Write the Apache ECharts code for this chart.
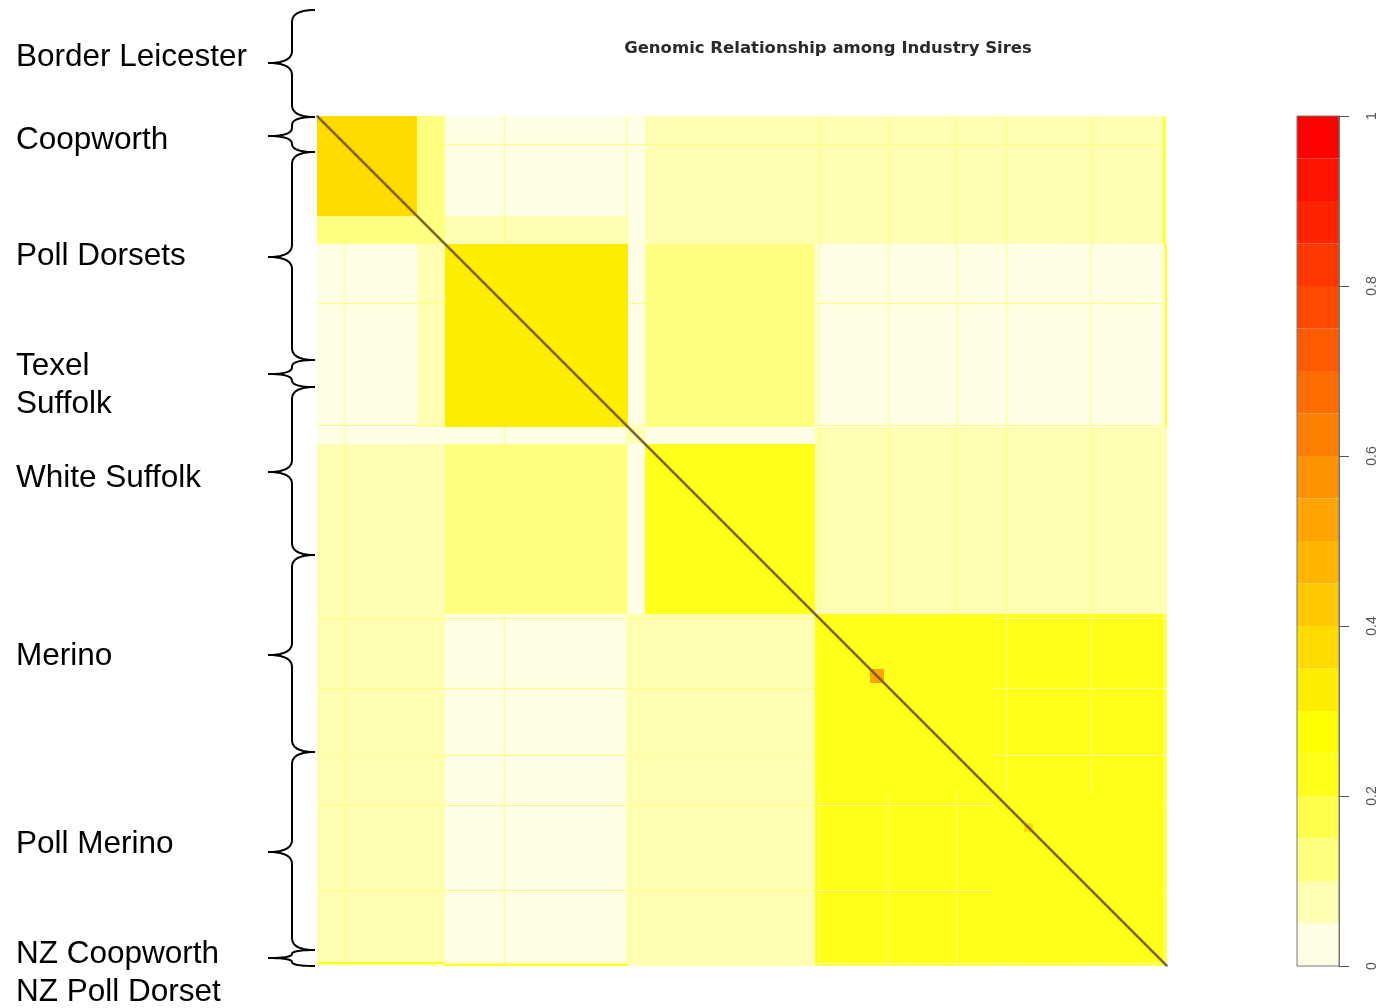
<!DOCTYPE html>
<html>
<head>
<meta charset="utf-8">
<title>Genomic Relationship among Industry Sires</title>
<script src="https://cdn.jsdelivr.net/npm/echarts@6/dist/echarts.min.js"></script>
<style>
  html, body { margin: 0; padding: 0; background: #ffffff; }
  #chart { width: 1382px; height: 1008px; }
</style>
</head>
<body>
<div id="chart"></div>
<script>
// ---- data -------------------------------------------------------------
// Sire groups, in the order they run along both axes of the matrix
const breeds = ['Border Leicester', 'Coopworth', 'Poll Dorset', 'Texel', 'Suffolk',
                'White Suffolk', 'Merino', 'Poll Merino', 'NZ Coopworth', 'NZ Poll Dorset'];
// number of sires genotyped in each group
const sireCounts = [100, 28, 183, 8, 9, 170, 178, 170, 2, 2];
// mean genomic relationship within (diagonal) and between groups
const meanRelationship = [
  //  BL     Coop   PD     Tex    Suf    WS     Mer    PM     NZC    NZPD
  [0.37,  0.13,  0.045, 0.04,  0.04,  0.065, 0.06,  0.06,  0.20,  0.08],
  [0.13,  0.13,  0.07,  0.04,  0.04,  0.07,  0.07,  0.07,  0.20,  0.08],
  [0.045, 0.07,  0.31,  0.03,  0.04,  0.11,  0.045, 0.045, 0.06,  0.20],
  [0.04,  0.04,  0.03,  0.06,  0.05,  0.04,  0.05,  0.05,  0.05,  0.05],
  [0.04,  0.04,  0.04,  0.05,  0.06,  0.04,  0.05,  0.05,  0.05,  0.05],
  [0.065, 0.07,  0.11,  0.04,  0.04,  0.24,  0.06,  0.06,  0.06,  0.08],
  [0.06,  0.07,  0.045, 0.05,  0.05,  0.06,  0.21,  0.20,  0.17,  0.17],
  [0.06,  0.07,  0.045, 0.05,  0.05,  0.06,  0.20,  0.21,  0.17,  0.17],
  [0.20,  0.20,  0.06,  0.05,  0.05,  0.06,  0.17,  0.17,  0.15,  0.06],
  [0.08,  0.08,  0.20,  0.05,  0.05,  0.08,  0.17,  0.17,  0.06,  0.15]
];
// self-relationship (1 + inbreeding) of the sires in each group
const selfRelationship = [1.06, 1.03, 1.05, 1.02, 1.02, 1.04, 1.03, 1.03, 1.02, 1.02];
// closely related half-sib families inside a group
const familyBreed = ['Merino', 'Poll Merino'];
const familyFirstSire = [55, 31];   // position of first sire within its group
const familySize = [14, 9];
const familyRelationship = [0.52, 0.36];
// individual sires whose relationship to other groups stands out from their group
const outlierSireBreed = ['Poll Dorset', 'Poll Dorset', 'Merino', 'Merino', 'Merino', 'Poll Merino', 'Poll Merino', 'Border Leicester'];
const outlierSirePosition = [59, 181, 4, 74, 141, 13, 98, 28];
const outlierSireRelationship = [0.13, 0.12, 0.12, 0.11, 0.13, 0.11, 0.12, 0.11];
// colour key
const colourBreaks = [0, 0.05, 0.1, 0.15, 0.2, 0.25, 0.3, 0.35, 0.4, 0.45, 0.5,
                      0.55, 0.6, 0.65, 0.7, 0.75, 0.8, 0.85, 0.9, 0.95, 1];
const keyTicks = [0, 0.2, 0.4, 0.6, 0.8, 1];

// ---- palette: reversed heat colours (pale yellow -> yellow -> red) ------
function hsvHex(h, s, v) {
  const i = Math.floor(h * 6), f = h * 6 - i;
  const p = v * (1 - s), q = v * (1 - f * s), t = v * (1 - (1 - f) * s);
  const rgb = [[v, t, p], [q, v, p], [p, v, t], [p, q, v], [t, p, v], [v, p, q]][i % 6];
  return '#' + rgb.map(c => Math.round(c * 255).toString(16).padStart(2, '0')).join('');
}
function heatColours(n) {
  const j = Math.floor(n / 4), i = n - j, out = [];
  for (let k = 0; k < i; k++) out.push(hsvHex((i > 1 ? k / (i - 1) : 0) / 6, 1, 1));
  for (let k = 0; k < j; k++) {
    const s = (1 - 1 / (2 * j)) - k * ((1 - 1 / j) / Math.max(j - 1, 1));
    out.push(hsvHex(1 / 6, s, 1));
  }
  return out;
}
const palette = heatColours(colourBreaks.length - 1).reverse();
const selfColour = '#765a22';

// ---- build matrix cells from the group table --------------------------
const starts = [];
sireCounts.reduce((acc, n) => { starts.push(acc); return acc + n; }, 0);
const totalSires = sireCounts.reduce((a, b) => a + b, 0);

const blockCells = [];
for (let r = 0; r < breeds.length; r++) {
  for (let c = 0; c < breeds.length; c++) {
    blockCells.push([starts[c], starts[c] + sireCounts[c],
                     starts[r], starts[r] + sireCounts[r], meanRelationship[r][c]]);
  }
}
// an outlier sire gives one row and one column against every other group
const outlierCells = [];
outlierSireBreed.forEach((b, k) => {
  const g = breeds.indexOf(b);
  const idx = starts[g] + outlierSirePosition[k];
  for (let c = 0; c < breeds.length; c++) {
    if (c === g) continue;
    outlierCells.push([starts[c], starts[c] + sireCounts[c], idx, idx + 1, outlierSireRelationship[k]]);
    outlierCells.push([idx, idx + 1, starts[c], starts[c] + sireCounts[c], outlierSireRelationship[k]]);
  }
});
const familyCells = familyBreed.map((b, k) => {
  const first = starts[breeds.indexOf(b)] + familyFirstSire[k];
  return [first, first + familySize[k], first, first + familySize[k], familyRelationship[k]];
});
const selfCells = [];
breeds.forEach((b, g) => {
  for (let s = 0; s < sireCounts[g]; s++) {
    const idx = starts[g] + s;
    selfCells.push([idx, idx + 1, idx, idx + 1, selfRelationship[g]]);
  }
});
const keyCells = palette.map((col, k) => [0, 1, colourBreaks[k], colourBreaks[k + 1], k]);

// ---- layout of the annotations ----------------------------------------
const plot = { left: 317, top: 116, size: 850 };
const keyBox = { left: 1297, top: 116, width: 42, height: 850 };
const labelFont = '31.5px "Liberation Sans", Arial, sans-serif';
const groupLabels = [
  ['Border Leicester', 55], ['Coopworth', 138], ['Poll Dorsets', 254], ['Texel', 364],
  ['Suffolk', 402], ['White Suffolk', 476], ['Merino', 654], ['Poll Merino', 842],
  ['NZ Coopworth', 952], ['NZ Poll Dorset', 990]
];
// brace spans: [top, bottom, point]
const braces = [[10, 117, 63], [117, 152, 136], [152, 360, 257], [360, 387, 374],
                [387, 555, 472], [555, 752, 655], [752, 950, 852], [950, 966, 958]];
const brace = { tipX: 268, spineX: 292, endX: 315 };

function quad(p0, c, p1, pts) {
  for (let t = 0.1; t <= 1.0001; t += 0.1) {
    const u = 1 - t;
    pts.push([u * u * p0[0] + 2 * u * t * c[0] + t * t * p1[0],
              u * u * p0[1] + 2 * u * t * c[1] + t * t * p1[1]]);
  }
}
function bracePoints(y0, y1, ym) {
  const r = Math.min(12, (ym - y0) / 2, (y1 - ym) / 2);
  const s = brace.spineX, pts = [[brace.endX, y0]];
  quad([brace.endX, y0], [s, y0], [s, y0 + r], pts);
  pts.push([s, ym - r]);
  quad([s, ym - r], [s, ym], [brace.tipX, ym], pts);
  quad([brace.tipX, ym], [s, ym], [s, ym + r], pts);
  pts.push([s, y1 - r]);
  quad([s, y1 - r], [s, y1], [brace.endX, y1], pts);
  return pts;
}

const graphics = [];
groupLabels.forEach(([txt, y]) => graphics.push({
  type: 'text', left: 16, top: y - 14,
  style: { text: txt, font: labelFont, fill: '#000' }
}));
braces.forEach(([y0, y1, ym]) => graphics.push({
  type: 'polyline', shape: { points: bracePoints(y0, y1, ym) },
  style: { stroke: '#000', lineWidth: 2, fill: null }
}));

// ---- chart -------------------------------------------------------------
function cellRenderer(strokeWidth) {
  return function (params, api) {
    const a = api.coord([api.value(0), api.value(2)]);
    const b = api.coord([api.value(1), api.value(3)]);
    const col = api.visual('color');
    return {
      type: 'rect',
      shape: { x: a[0], y: a[1], width: b[0] - a[0], height: b[1] - a[1] },
      style: strokeWidth ? { fill: col, stroke: col, lineWidth: strokeWidth } : { fill: col }
    };
  };
}

const pieces = palette.map((col, k) => (k === palette.length - 1)
  ? { gte: colourBreaks[k], lte: colourBreaks[k + 1], color: col }
  : { gte: colourBreaks[k], lt: colourBreaks[k + 1], color: col });
pieces.push({ gt: 1, color: selfColour });

const cellSeries = (name, data, stroke) => ({
  name: name, type: 'custom', xAxisIndex: 0, yAxisIndex: 0, data: data,
  renderItem: cellRenderer(stroke), encode: { x: [0, 1], y: [2, 3] }, progressive: 0
});

const chart = echarts.init(document.getElementById('chart'), null, { renderer: 'canvas' });
chart.setOption({
  backgroundColor: '#ffffff',
  animation: false,
  title: {
    text: 'Genomic Relationship among Industry Sires',
    left: 823, top: 35, textAlign: 'center',
    textStyle: { fontSize: 16.5, fontWeight: 'bold', color: '#2a2a2a',
                 fontFamily: '"DejaVu Sans", Verdana, sans-serif' }
  },
  grid: [
    { left: plot.left, top: plot.top, width: plot.size, height: plot.size },
    { left: keyBox.left, top: keyBox.top, width: keyBox.width, height: keyBox.height,
      show: true, z: 10, backgroundColor: 'transparent', borderColor: '#777', borderWidth: 1 }
  ],
  xAxis: [
    { gridIndex: 0, type: 'value', min: 0, max: totalSires, show: false },
    { gridIndex: 1, type: 'value', min: 0, max: 1, show: false }
  ],
  yAxis: [
    { gridIndex: 0, type: 'value', min: 0, max: totalSires, inverse: true, show: false },
    { gridIndex: 1, type: 'value', min: keyTicks[0], max: keyTicks[keyTicks.length - 1],
      interval: keyTicks[1] - keyTicks[0], position: 'right', z: 12,
      axisLine: { show: true, onZero: false, lineStyle: { color: '#777', width: 1 } },
      axisTick: { show: true, inside: false, length: 10, lineStyle: { color: '#555', width: 1 } },
      splitLine: { show: false },
      axisLabel: { show: true, rotate: 90, margin: 26, fontSize: 14, color: '#555',
                   fontFamily: '"Liberation Sans", Arial, sans-serif' } }
  ],
  visualMap: {
    type: 'piecewise', show: false, dimension: 4, seriesIndex: [0, 1, 2, 3], pieces: pieces
  },
  graphic: graphics,
  series: [
    cellSeries('between groups', blockCells, 0),
    cellSeries('outlier sires', outlierCells, 0),
    cellSeries('families', familyCells, 0),
    cellSeries('self', selfCells, 1.2),
    { name: 'key', type: 'custom', xAxisIndex: 1, yAxisIndex: 1, data: keyCells,
      encode: { x: [0, 1], y: [2, 3] },
      renderItem: function (params, api) {
        const a = api.coord([api.value(0), api.value(3)]);
        const b = api.coord([api.value(1), api.value(2)]);
        return { type: 'rect',
                 shape: { x: a[0], y: a[1], width: b[0] - a[0], height: b[1] - a[1] },
                 style: { fill: palette[api.value(4)] } };
      } }
  ]
});
</script>
</body>
</html>
